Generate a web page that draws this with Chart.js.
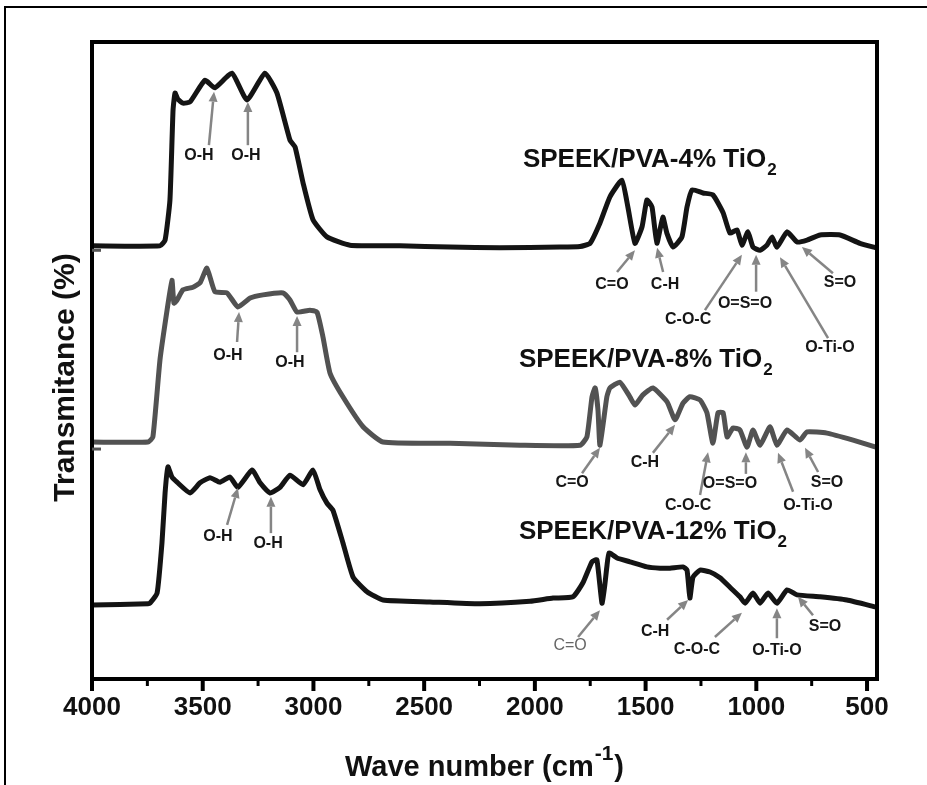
<!DOCTYPE html>
<html>
<head>
<meta charset="utf-8">
<script src="https://cdn.jsdelivr.net/npm/chart.js@4.4.1/dist/chart.umd.min.js"></script>
<style>
html, body { margin: 0; padding: 0; background: #fff; }
</style>
</head>
<body>
<canvas id="myChart" width="927" height="785"></canvas>
<script>
// wavenumbers (cm-1) and transmittance (offset, % of plot height)
var wave4 = [4000,3693,3670,3648,3634,3625,3612,3589,3557,3490,3445,3368,3300,3219,3165,3106,3083,3047,3002,2939,2835,2609,2383,2158,1887,1796,1751,1706,1661,1607,1580,1548,1516,1494,1471,1449,1422,1404,1376,1336,1313,1290,1241,1196,1150,1119,1087,1065,1038,1015,983,952,929,907,861,816,771,712,622,532,460];
var trans4 = [68.0,68.0,68.9,75.2,89.3,92.0,91.0,90.4,90.6,94.0,92.8,95.1,90.9,95.1,92.0,84.6,83.5,77.9,72.1,69.4,68.1,68.0,67.8,67.7,67.8,67.9,68.4,71.6,75.7,78.3,74.1,68.4,71.0,75.2,74.1,68.4,72.5,70.0,67.8,69.4,74.1,76.8,76.3,76.0,73.2,70.0,70.5,68.1,70.2,67.8,67.3,68.1,69.4,67.8,70.2,68.6,68.9,69.7,69.7,68.4,67.7];

var wave8 = [4000,3747,3725,3693,3661,3639,3630,3616,3589,3544,3512,3481,3445,3390,3341,3286,3228,3137,3106,3074,3016,2984,2957,2925,2867,2776,2686,2383,2067,1796,1765,1742,1728,1715,1706,1675,1661,1616,1571,1548,1512,1467,1403,1367,1331,1300,1254,1223,1196,1173,1150,1132,1105,1074,1042,1015,983,938,907,861,803,771,681,563,460];
var trans8 = [37.2,37.2,38.0,50.1,57.9,62.6,59.0,59.5,61.1,61.5,62.2,64.5,60.8,60.6,58.4,59.8,60.3,60.6,59.5,57.6,57.9,57.6,53.7,48.0,44.3,39.6,37.2,37.0,36.7,36.7,38.0,44.3,45.7,42.2,36.7,44.3,45.7,46.6,44.3,43.0,44.6,45.7,43.5,40.7,43.3,44.3,43.8,41.8,37.0,41.8,41.8,38.0,39.4,39.1,36.4,39.1,36.7,39.6,36.7,39.1,37.5,38.8,38.6,37.5,36.4];

var wave12 = [4000,3747,3738,3706,3684,3670,3657,3639,3616,3557,3512,3467,3422,3377,3341,3277,3241,3196,3151,3106,3047,3002,2970,2939,2912,2867,2821,2758,2686,2474,2248,2022,1918,1828,1783,1742,1720,1697,1684,1675,1665,1629,1571,1494,1435,1390,1331,1313,1300,1286,1254,1209,1164,1119,1074,1051,1015,983,947,907,861,816,712,591,460];
var trans12 = [11.6,11.8,11.9,13.5,21.4,29.2,33.3,31.7,30.9,29.2,30.8,31.6,30.9,31.7,30.1,32.8,30.8,29.2,30.1,32.0,30.5,32.8,29.7,27.6,26.5,21.4,16.0,13.7,12.4,12.1,11.8,12.2,12.7,12.9,15.1,18.4,18.7,11.9,14.8,17.6,19.8,19.0,18.4,17.6,17.4,17.4,17.6,17.1,12.7,16.0,17.1,16.8,15.9,14.4,12.9,11.9,13.5,11.9,13.5,11.9,14.0,13.2,12.9,12.4,11.3];

var xTicks = [4000,3500,3000,2500,2000,1500,1000,500];
var xMinor = [3750,3250,2750,2250,1750,1250,750];
var yTicks = [67.3,36.1];

// series names: text, subscript, wavenumber and transmittance of the text start
var seriesNames = ["SPEEK/PVA-4% TiO", "SPEEK/PVA-8% TiO", "SPEEK/PVA-12% TiO"];
var nameWave = [2054, 2072, 2072];
var nameTrans = [80.4, 49.0, 22.0];

// band labels: text, label (wn, T), arrow tail (wn, T), arrow tip (wn, T)
var bands = [
  ["O-H", 3517,82.1, 3472,83.8, 3449,92.2],
  ["O-H", 3305,82.1, 3296,83.8, 3296,90.6],
  ["C=O", 1652,61.9, 1629,63.9, 1548,67.3],
  ["C-H", 1412,61.9, 1421,63.9, 1448,67.7],
  ["C-O-C", 1308,56.4, 1232,57.9, 1065,66.6],
  ["O=S=O", 1051,59.0, 1001,60.8, 1001,66.6],
  ["O-Ti-O", 667,52.0, 676,53.5, 893,66.2],
  ["S=O", 622,62.2, 654,63.7, 794,67.8],
  ["O-H", 3386,50.7, 3345,52.9, 3336,57.6],
  ["O-H", 3106,49.6, 3074,51.3, 3074,57.0],
  ["C=O", 1832,30.8, 1787,32.3, 1706,36.3],
  ["C-H", 1503,33.9, 1467,35.5, 1367,39.9],
  ["C-O-C", 1308,27.3, 1254,28.9, 1218,35.6],
  ["O=S=O", 1119,30.6, 1047,32.2, 1047,35.6],
  ["O-Ti-O", 767,27.3, 834,29.4, 902,35.5],
  ["S=O", 681,30.9, 721,32.5, 780,36.3],
  ["O-H", 3431,22.4, 3390,24.2, 3341,30.0],
  ["O-H", 3205,21.2, 3192,22.9, 3192,28.6],
  ["C=O", 1841,5.2, 1805,6.6, 1706,10.8],
  ["C-H", 1457,7.4, 1403,9.3, 1308,12.4],
  ["C-O-C", 1268,4.6, 1187,6.6, 1065,10.4],
  ["O-Ti-O", 907,4.4, 907,6.4, 907,11.1],
  ["S=O", 690,8.3, 744,10.0, 812,12.9]
];

var FONT = "'Liberation Sans', Arial, sans-serif";

function pts(xs, ys) {
  return xs.map(function (x, i) { return { x: x, y: ys[i] }; });
}

function arrow(ctx, x1, y1, x2, y2) {
  var ang = Math.atan2(y2 - y1, x2 - x1);
  var head = 10, hw = 4.5;
  var bx = x2 - head * Math.cos(ang), by = y2 - head * Math.sin(ang);
  ctx.beginPath();
  ctx.moveTo(x1, y1);
  ctx.lineTo(bx, by);
  ctx.stroke();
  ctx.beginPath();
  ctx.moveTo(x2, y2);
  ctx.lineTo(bx + hw * Math.sin(ang), by - hw * Math.cos(ang));
  ctx.lineTo(bx - hw * Math.sin(ang), by + hw * Math.cos(ang));
  ctx.closePath();
  ctx.fill();
}

var decor = {
  id: "decor",
  beforeDraw: function (chart) {
    var ctx = chart.ctx;
    ctx.save();
    ctx.fillStyle = "#fff";
    ctx.fillRect(0, 0, chart.width, chart.height);
    ctx.strokeStyle = "#000";
    ctx.lineWidth = 2;
    ctx.beginPath();
    ctx.moveTo(5, chart.height);
    ctx.lineTo(5, 7);
    ctx.lineTo(chart.width, 7);
    ctx.stroke();
    ctx.restore();
  },
  afterDatasetsDraw: function (chart) {
    var ctx = chart.ctx, xs = chart.scales.x, ys = chart.scales.y;
    ctx.save();
    ctx.strokeStyle = "#858585";
    ctx.fillStyle = "#858585";
    ctx.lineWidth = 2.5;
    bands.forEach(function (b) {
      arrow(ctx, xs.getPixelForValue(b[3]), ys.getPixelForValue(b[4]),
        xs.getPixelForValue(b[5]), ys.getPixelForValue(b[6]));
    });
    ctx.textAlign = "center";
    ctx.textBaseline = "middle";
    bands.forEach(function (b, i) {
      var light = (i === 18);
      ctx.fillStyle = light ? "#666" : "#161616";
      ctx.font = (light ? "" : "bold ") + "16px " + FONT;
      ctx.fillText(b[0], xs.getPixelForValue(b[1]), ys.getPixelForValue(b[2]));
    });
    ctx.textAlign = "left";
    ctx.textBaseline = "alphabetic";
    ctx.fillStyle = "#111";
    seriesNames.forEach(function (s, i) {
      var x = xs.getPixelForValue(nameWave[i]), y = ys.getPixelForValue(nameTrans[i]);
      ctx.font = "bold 26px " + FONT;
      ctx.fillText(s, x, y);
      var w = ctx.measureText(s).width;
      ctx.font = "bold 17px " + FONT;
      ctx.fillText("2", x + w + 1, y + 8);
    });
    ctx.restore();
  },
  afterDraw: function (chart) {
    var ctx = chart.ctx, a = chart.chartArea, xs = chart.scales.x, ys = chart.scales.y;
    ctx.save();
    // plot frame
    ctx.strokeStyle = "#000";
    ctx.lineWidth = 4;
    ctx.strokeRect(a.left, a.top, a.right - a.left, a.bottom - a.top);
    // x tick marks
    ctx.lineWidth = 4;
    xTicks.forEach(function (v) {
      var x = xs.getPixelForValue(v);
      ctx.beginPath(); ctx.moveTo(x, a.bottom); ctx.lineTo(x, a.bottom + 12); ctx.stroke();
    });
    ctx.lineWidth = 3;
    xMinor.forEach(function (v) {
      var x = xs.getPixelForValue(v);
      ctx.beginPath(); ctx.moveTo(x, a.bottom); ctx.lineTo(x, a.bottom + 7); ctx.stroke();
    });
    // y tick marks (inside)
    ctx.strokeStyle = "#555";
    ctx.lineWidth = 3;
    yTicks.forEach(function (v) {
      var y = ys.getPixelForValue(v);
      ctx.beginPath(); ctx.moveTo(a.left, y); ctx.lineTo(a.left + 9, y); ctx.stroke();
    });
    // y title
    ctx.fillStyle = "#111";
    ctx.font = "bold 30px " + FONT;
    ctx.textAlign = "center";
    ctx.textBaseline = "alphabetic";
    ctx.save();
    ctx.translate(74, (a.top + a.bottom) / 2 + 17);
    ctx.rotate(-Math.PI / 2);
    ctx.fillText("Transmitance (%)", 0, 0);
    ctx.restore();
    // x title with superscript
    var main = "Wave number (cm", sup = "-1", close = ")";
    ctx.font = "bold 29px " + FONT;
    var w1 = ctx.measureText(main).width, w3 = ctx.measureText(close).width;
    ctx.font = "bold 21px " + FONT;
    var w2 = ctx.measureText(sup).width;
    var x0 = (a.left + a.right) / 2 - (w1 + w2 + w3 + 2) / 2, base = 776;
    ctx.textAlign = "left";
    ctx.font = "bold 29px " + FONT;
    ctx.fillText(main, x0, base);
    ctx.font = "bold 21px " + FONT;
    ctx.fillText(sup, x0 + w1 + 1, base - 16);
    ctx.font = "bold 29px " + FONT;
    ctx.fillText(close, x0 + w1 + w2 + 2, base);
    ctx.restore();
  }
};

new Chart("myChart", {
  type: "line",
  data: {
    datasets: [
      { label: "4%", data: pts(wave4, trans4), borderColor: "#141414", borderWidth: 5 },
      { label: "8%", data: pts(wave8, trans8), borderColor: "#525252", borderWidth: 5 },
      { label: "12%", data: pts(wave12, trans12), borderColor: "#141414", borderWidth: 5 }
    ]
  },
  options: {
    responsive: false,
    animation: false,
    devicePixelRatio: 1,
    layout: { padding: { top: 42, right: 50, left: 0, bottom: 0 } },
    elements: {
      point: { radius: 0 },
      line: { tension: 0.15, borderJoinStyle: "round", borderCapStyle: "round" }
    },
    plugins: { legend: { display: false }, tooltip: { enabled: false } },
    scales: {
      x: {
        type: "linear",
        reverse: true,
        min: 455,
        max: 4000,
        afterBuildTicks: function (s) { s.ticks = xTicks.map(function (v) { return { value: v }; }); },
        afterFit: function (s) { s.height = 106; },
        grid: { display: false, drawTicks: false },
        border: { display: false },
        ticks: {
          autoSkip: false,
          maxRotation: 0,
          padding: 13,
          color: "#111",
          font: { family: FONT, size: 26, weight: "bold" },
          callback: function (v) { return String(v); }
        }
      },
      y: {
        min: 0,
        max: 100,
        afterBuildTicks: function (s) { s.ticks = yTicks.map(function (v) { return { value: v }; }); },
        afterFit: function (s) { s.width = 92; },
        grid: { display: false, drawTicks: false },
        border: { display: false },
        ticks: { display: false }
      }
    }
  },
  plugins: [decor]
});
</script>
</body>
</html>
